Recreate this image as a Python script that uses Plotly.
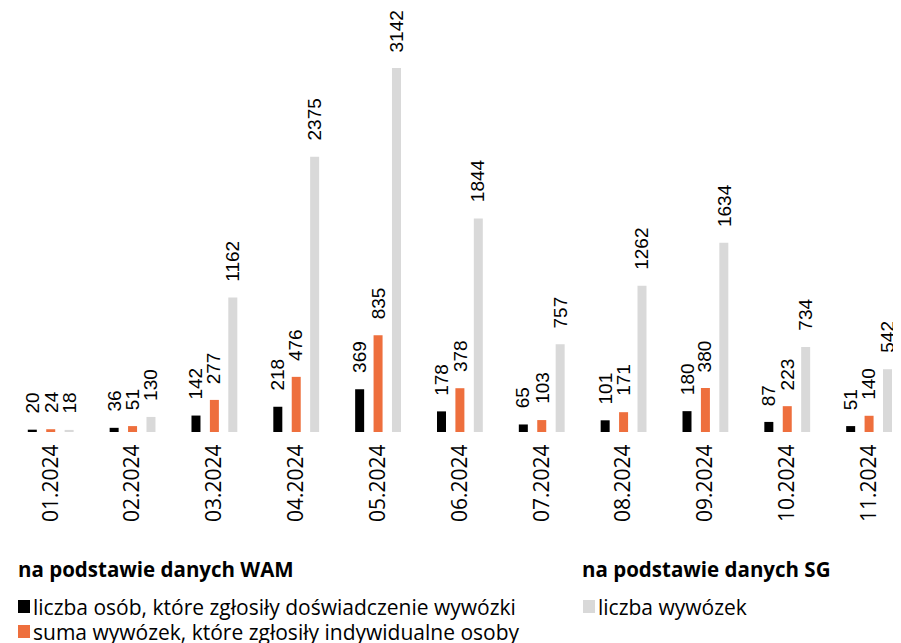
import plotly.graph_objects as go

# Data
months = ['01.2024', '02.2024', '03.2024', '04.2024', '05.2024', '06.2024',
          '07.2024', '08.2024', '09.2024', '10.2024', '11.2024']
osoby = [20, 36, 142, 218, 369, 178, 65, 101, 180, 87, 51]
suma_wam = [24, 51, 277, 476, 835, 378, 103, 171, 380, 223, 140]
wywozki_sg = [18, 130, 1162, 2375, 3142, 1844, 757, 1262, 1634, 734, 542]

BLACK = '#000000'
ORANGE = '#EE6F3D'
GREY = '#D9D9D9'
FONT = 'Open Sans'
NUMFONT = 'Liberation Sans'

# page body has an 8px margin, so the figure is a bit smaller than the window
W, H = 893, 635
L, R, T, B = 0, 0, 0, 211

x = list(range(len(months)))
bw = 0.11
step = 0.225

fig = go.Figure()
for vals, col, off in [(osoby, BLACK, -step), (suma_wam, ORANGE, 0), (wywozki_sg, GREY, step)]:
    fig.add_trace(go.Bar(
        x=x, y=vals, width=bw, offset=off - bw / 2,
        marker=dict(color=col, line=dict(width=0)),
        showlegend=False, hoverinfo='y',
    ))
    # value labels above bars
    for xi, v in zip(x, vals):
        fig.add_annotation(x=xi + off, y=v, text=str(v), showarrow=False,
                           textangle=-90, xanchor='center', yanchor='bottom', yshift=14,
                           font=dict(family=NUMFONT, size=19, color='#000000'))

fig.update_layout(
    width=W, height=H,
    margin=dict(l=L, r=R, t=T, b=B, autoexpand=False),
    paper_bgcolor='white', plot_bgcolor='white',
    barmode='overlay',
    font=dict(family=FONT, color='#000000'),
    xaxis=dict(tickmode='array', tickvals=x, ticktext=months, tickangle=-90,
               range=[-0.522, 10.39], showgrid=False, zeroline=False,
               showline=False, ticks='outside', ticklen=3, tickcolor='rgba(0,0,0,0)',
               tickfont=dict(family=FONT, size=21)),
    yaxis=dict(range=[0, 3660], visible=False),
)

# pixel helpers for the custom legend
pw, ph = W - L - R, H - T - B
def px(v):
    return (v - L) / pw
def py(v):
    return (H - B - v) / ph

legend_headers = [('na podstawie danych WAM', 8), ('na podstawie danych SG', 572)]
for txt, x0 in legend_headers:
    fig.add_annotation(x=px(x0), y=py(561), xref='paper', yref='paper', text='<b>' + txt + '</b>',
                       showarrow=False, xanchor='left', yanchor='middle',
                       font=dict(family=FONT, size=20.5, color='#000000'))

legend_items = [
    ('liczba osób, które zgłosiły doświadczenie wywózki', BLACK, 10, 599),
    ('suma wywózek, które zgłosiły indywidualne osoby', ORANGE, 10, 624),
    ('liczba wywózek', GREY, 575, 599),
]
for txt, col, x0, yc in legend_items:
    fig.add_shape(type='rect', xref='paper', yref='paper',
                  x0=px(x0), x1=px(x0 + 12), y0=py(yc - 7), y1=py(yc + 6),
                  fillcolor=col, line=dict(width=0))
    fig.add_annotation(x=px(x0 + 13), y=py(yc), xref='paper', yref='paper', text=txt,
                       showarrow=False, xanchor='left', yanchor='middle',
                       font=dict(family=FONT, size=21, color='#000000'))

fig.write_html('out.html')
